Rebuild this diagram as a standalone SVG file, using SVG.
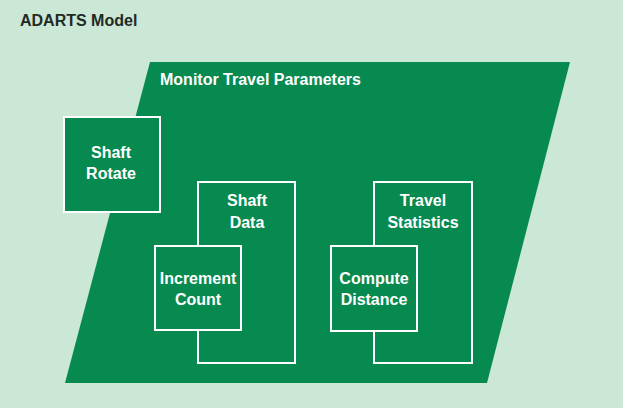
<svg xmlns="http://www.w3.org/2000/svg" width="623" height="408" viewBox="0 0 623 408">
<style>
.t{font-family:"Liberation Sans",Arial,sans-serif;font-weight:bold;font-size:16px;fill:#ffffff;text-anchor:middle}
.box{fill:#078a4f;stroke:#ffffff;stroke-width:2}
</style>
<rect x="0" y="0" width="623" height="408" fill="#cbe7d5"/>
<text x="20" y="26" style="font-family:'Liberation Sans',Arial,sans-serif;font-weight:bold;font-size:16px;fill:#1f2a24">ADARTS Model</text>
<g id="monitor-travel-parameters">
<polygon points="150,62 570,62 487,383 65,383" fill="#078a4f"/>
<text x="160" y="85" style="font-family:'Liberation Sans',Arial,sans-serif;font-weight:bold;font-size:16px;fill:#ffffff">Monitor Travel Parameters</text>
</g>
<g id="shaft-rotate">
<rect class="box" x="64" y="117" width="96" height="95"/>
<text class="t" x="111" y="158">Shaft</text>
<text class="t" x="111" y="179">Rotate</text>
</g>
<g id="shaft-data">
<rect class="box" x="198" y="182" width="97" height="181"/>
<text class="t" x="247" y="206">Shaft</text>
<text class="t" x="247" y="228">Data</text>
</g>
<g id="increment-count">
<rect class="box" x="155" y="246" width="86" height="84"/>
<text class="t" x="198" y="284">Increment</text>
<text class="t" x="198" y="305">Count</text>
</g>
<g id="travel-statistics">
<rect class="box" x="374" y="182" width="98" height="181"/>
<text class="t" x="423" y="206">Travel</text>
<text class="t" x="423" y="228">Statistics</text>
</g>
<g id="compute-distance">
<rect class="box" x="331" y="246" width="86" height="85"/>
<text class="t" x="374" y="284">Compute</text>
<text class="t" x="374" y="305">Distance</text>
</g>
<g id="connectors"></g>
</svg>
